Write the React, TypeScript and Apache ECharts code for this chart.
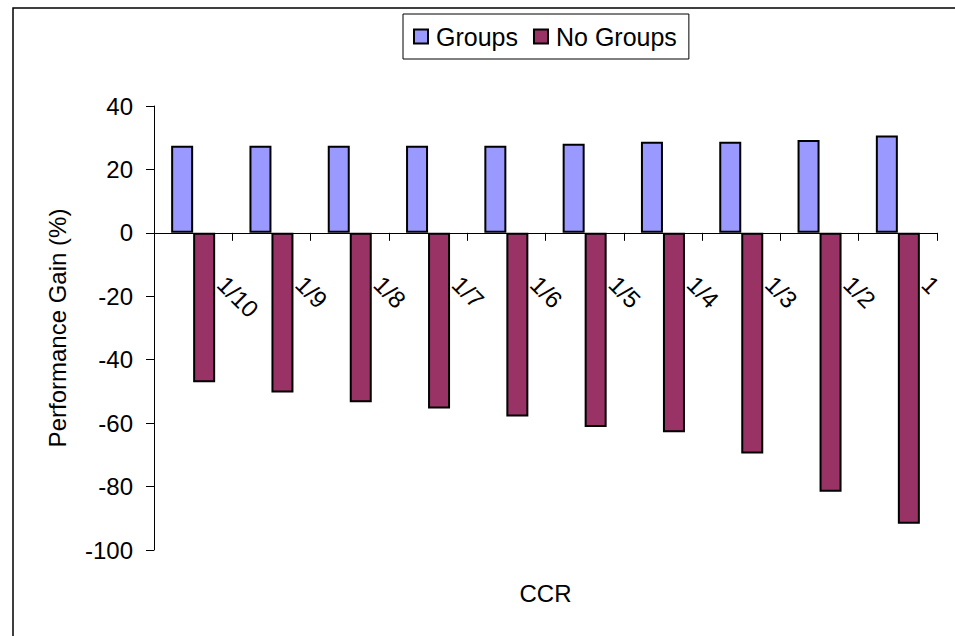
import React, { useEffect, useRef } from "react";
import * as echarts from "echarts";

// CCR ratios along the category axis
const categories = ["1/10", "1/9", "1/8", "1/7", "1/6", "1/5", "1/4", "1/3", "1/2", "1"];
// Performance gain (%) with grouping
const groupsValues = [27.5, 27.5, 27.5, 27.5, 27.5, 28.1, 28.7, 28.7, 29.3, 30.7];
// Performance gain (%) without grouping
const noGroupsValues = [-47.1, -50.3, -53.4, -55.4, -57.9, -61.2, -62.9, -69.6, -81.6, -91.7];
// Value axis range
const yMin = -100;
const yMax = 40;
const yStep = 20;

const FONT = "'Liberation Sans', Arial, Helvetica, sans-serif";

export default function App() {
  const ref = useRef<HTMLDivElement>(null);

  useEffect(() => {
    if (!ref.current) return;
    const chart = echarts.init(ref.current, undefined, { renderer: "svg" });
    chart.setOption({
      animation: false,
      backgroundColor: "#ffffff",
      textStyle: { fontFamily: FONT, color: "#000" },
      graphic: [
        {
          type: "polyline",
          shape: { points: [[13, 640], [13, 8], [960, 8]] },
          style: { stroke: "#000", lineWidth: 1.5, fill: "none" },
          silent: true,
        },
        // category axis title, centred under the plot
        {
          type: "text",
          x: 545.5,
          y: 593,
          style: {
            text: "CCR",
            font: `24px ${FONT}`,
            fill: "#000",
            align: "center",
            verticalAlign: "middle",
          },
          silent: true,
        },
      ],
      legend: {
        left: 403,
        top: 14,
        orient: "horizontal",
        padding: [10, 12, 10, 10],
        borderColor: "#000",
        borderWidth: 1,
        itemWidth: 14,
        itemHeight: 14,
        itemGap: 15,
        icon: "rect",
        textStyle: { fontFamily: FONT, fontSize: 25, color: "#000", padding: [0, 0, 0, 3] },
        data: ["Groups", "No Groups"],
      },
      grid: {
        left: 154,
        right: 18,
        top: 106,
        bottom: 86,
        containLabel: false,
        outerBoundsMode: "none",
      },
      xAxis: {
        type: "category",
        data: categories,
        axisLine: { onZero: true, lineStyle: { color: "#000", width: 1 } },
        axisTick: { show: true, length: 8, lineStyle: { color: "#000" } },
        axisLabel: {
          interval: 0,
          rotate: -45,
          margin: -298,
          padding: [0, 0, 0, 40],
          fontFamily: FONT,
          fontSize: 24,
          color: "#000",
        },
        splitLine: { show: false },
      },
      yAxis: {
        type: "value",
        min: yMin,
        max: yMax,
        interval: yStep,
        name: "Performance Gain (%)",
        nameLocation: "middle",
        nameGap: 85,
        nameTextStyle: { fontFamily: FONT, fontSize: 24, color: "#000" },
        axisLine: { show: true, lineStyle: { color: "#000", width: 1 } },
        axisTick: { show: true, length: 8, lineStyle: { color: "#000" } },
        axisLabel: { margin: 21, fontFamily: FONT, fontSize: 24, color: "#000" },
        splitLine: { show: false },
      },
      series: [
        {
          name: "Groups",
          type: "bar",
          data: groupsValues,
          barWidth: 22,
          barGap: "0%",
          itemStyle: { color: "#9999FF", borderColor: "#000", borderWidth: 2 },
        },
        {
          name: "No Groups",
          type: "bar",
          data: noGroupsValues,
          barWidth: 22,
          barGap: "0%",
          itemStyle: { color: "#993366", borderColor: "#000", borderWidth: 2 },
        },
      ],
    });
    return () => chart.dispose();
  }, []);

  return (
    <div
      ref={ref}
      style={{ position: "fixed", left: 0, top: 0, width: 955, height: 636, background: "#fff" }}
    />
  );
}
